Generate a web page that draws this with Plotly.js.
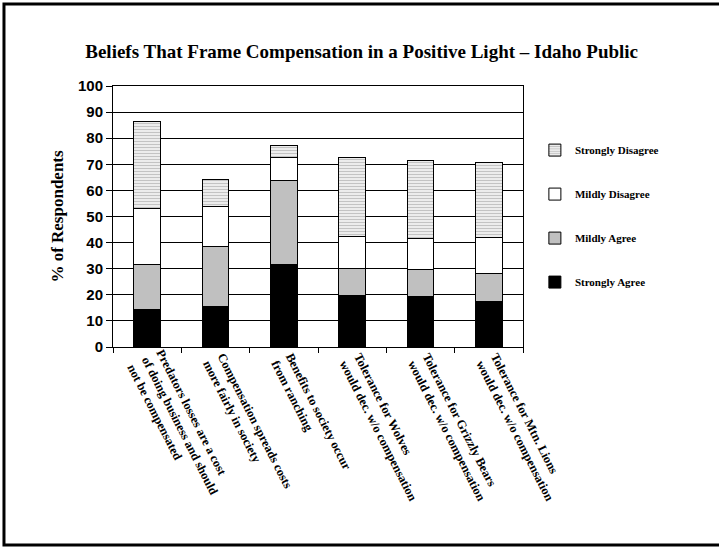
<!DOCTYPE html>
<html>
<head>
<meta charset="utf-8">
<script src="https://cdn.plot.ly/plotly-3.0.1.min.js"></script>
<style>html,body{margin:0;padding:0;background:#fff;}#chart{width:719px;height:547px;}</style>
</head>
<body>
<div id="chart"></div>
<script>
const categories = [
  "Predators losses are a cost<br>of doing business and should<br>not be compensated",
  "Compensation spreads costs<br>more fairly in society",
  "Benefits to society occur<br>from ranching",
  "Tolerance for Wolves<br>would dec. w/o compensation",
  "Tolerance for Grizzly Bears<br>would dec. w/o compensation",
  "Tolerance for Mtn. Lions<br>would dec. w/o compensation"
];
const stronglyAgree    = [14.3, 15.4, 31.5, 19.8, 19.3, 17.5];
const mildlyAgree      = [17.2, 23.2, 32.2, 10.2, 10.3, 10.7];
const mildlyDisagree   = [21.6, 15.2,  9.0, 12.3, 11.9, 13.7];
const stronglyDisagree = [33.3, 10.3,  4.5, 30.2, 29.9, 28.7];
const yTicks = [0,10,20,30,40,50,60,70,80,90,100];

const lineStyle = {color: '#000', width: 1};
const traces = [
  {name: 'Strongly Agree', legendrank: 4, y: stronglyAgree, marker: {color: '#000000', line: lineStyle}},
  {name: 'Mildly Agree', legendrank: 3, y: mildlyAgree, marker: {color: '#c0c0c0', line: lineStyle}},
  {name: 'Mildly Disagree', legendrank: 2, y: mildlyDisagree, marker: {color: '#ffffff', line: lineStyle}},
  {name: 'Strongly Disagree', legendrank: 1, y: stronglyDisagree, marker: {color: '#ffffff', line: lineStyle,
     pattern: {shape: '-', fgcolor: '#888888', bgcolor: '#ffffff', size: 3, solidity: 0.55, fillmode: 'overlay'}}}
].map((t, i) => Object.assign({
  type: 'bar', x: categories, width: 0.39, legendgroup: 'g' + i, hoverinfo: 'y+name'
}, t));
traces.forEach(t => t.name = '<b>' + t.name + '</b>');

const layout = {
  width: 719, height: 547,
  paper_bgcolor: '#fff', plot_bgcolor: '#fff',
  margin: {l: 113, r: 196, t: 86, b: 200},
  barmode: 'stack', bargap: 0.61,
  title: {text: '<b>Beliefs That Frame Compensation in a Positive Light – Idaho Public</b>',
          font: {family: 'Liberation Serif, Times New Roman, serif', size: 19, color: '#000'},
          x: 0.503, xanchor: 'center', y: 0.907, yanchor: 'middle'},
  xaxis: {
    type: 'category', tickangle: 63, tickson: 'boundaries', ticks: 'outside', ticklen: 5,
    tickvals: categories, ticktext: categories.map(c => '<b>' + c + '</b>'),
    tickcolor: '#000', showline: true, linecolor: '#000', linewidth: 1, mirror: true,
    showgrid: false, tickfont: {family: 'Liberation Serif, Times New Roman, serif', size: 12.5, color: '#000'},
    fixedrange: true
  },
  yaxis: {
    range: [0, 100], tickvals: yTicks, ticktext: yTicks.map(v => '<b>' + v + '</b>'),
    ticks: 'outside', ticklen: 6, tickcolor: '#000',
    showline: true, linecolor: '#000', linewidth: 1, mirror: true,
    showgrid: true, gridcolor: '#000', gridwidth: 1, zeroline: false,
    tickfont: {family: 'Liberation Sans, Arial, sans-serif', size: 15, color: '#000'},
    title: {text: '<b>% of Respondents</b>', standoff: 10,
            font: {family: 'Liberation Serif, Times New Roman, serif', size: 17, color: '#000'}},
    fixedrange: true
  },
  legend: {
    x: 1.029, xanchor: 'left', y: 0.81, yanchor: 'top',
    traceorder: 'grouped', tracegroupgap: 25, itemwidth: 30,
    font: {family: 'Liberation Serif, Times New Roman, serif', size: 11, color: '#000'},
    bgcolor: 'rgba(0,0,0,0)'
  },
  shapes: [{
    type: 'rect', xref: 'paper', yref: 'paper',
    x0: -0.2659, x1: 1.6, y0: -0.7586, y1: 1.314,
    line: {color: '#000', width: 3}, fillcolor: 'rgba(0,0,0,0)', layer: 'above'
  }],
  showlegend: true
};
Plotly.newPlot('chart', traces, layout, {displayModeBar: false, staticPlot: true});
</script>
</body>
</html>
